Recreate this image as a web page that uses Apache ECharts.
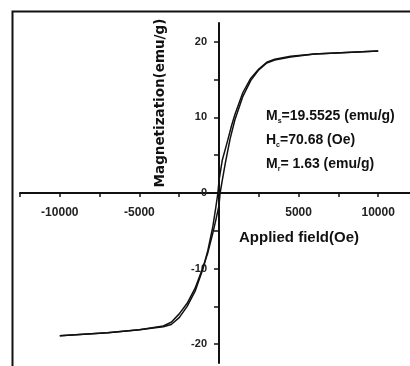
<!DOCTYPE html>
<html>
<head>
<meta charset="utf-8">
<script src="https://cdn.jsdelivr.net/npm/echarts@6/dist/echarts.min.js"></script>
<style>
  html, body { margin: 0; padding: 0; background: #fff; }
  #chart { width: 410px; height: 366px; }
</style>
</head>
<body>
<div id="chart"></div>
<script>
// descending branch (+H -> -H)
const descField = [10000, 8000, 6000, 4500, 3500, 3000, 2500, 2000, 1500, 1000, 800, 500, 200, 0, -70, -200, -400, -700, -1000, -1500, -2000, -2500, -3000, -3500, -5000, -7000, -10000];
const descMag = [18.8, 18.6, 18.4, 18.1, 17.7, 17.3, 16.4, 15.2, 13.3, 10.4, 9.0, 6.6, 4.3, 1.63, 0, -1.9, -4.6, -7.6, -10.0, -13.0, -15.0, -16.5, -17.4, -17.7, -18.1, -18.5, -18.9];
// ascending branch (-H -> +H)
const ascField = [-10000, -7000, -5000, -3500, -3000, -2500, -2000, -1500, -1000, -700, -400, -200, 0, 70, 200, 400, 700, 1000, 1500, 2000, 2500, 3000, 3500, 4500, 6000, 8000, 10000];
const ascMag = [-18.9, -18.5, -18.1, -17.6, -17.1, -16.0, -14.6, -12.6, -9.8, -7.9, -5.4, -3.6, -1.63, 0, 1.6, 4.0, 7.2, 9.7, 12.8, 14.9, 16.3, 17.2, 17.6, 18.0, 18.4, 18.6, 18.8];

const xTicks = [-12500, -10000, -7500, -5000, -2500, 0, 2500, 5000, 7500, 10000, 12500];
const xLabels = [-10000, -5000, 5000, 10000];
const yTicks = [-20, -15, -10, -5, 0, 5, 10, 15, 20];
const yLabels = [-20, -10, 0, 10, 20];

const notes = [
  ['M', 's', '=19.5525 (emu/g)'],
  ['H', 'c', '=70.68 (Oe)'],
  ['M', 'r', '= 1.63 (emu/g)']
];

const zip = (xs, ys) => xs.map((x, i) => [x, ys[i]]);
const ink = '#111';
const font = 'Liberation Sans, Arial, sans-serif';

// grid box; axes are shifted onto the origin with offset
const gLeft = 20, gRight = -8, gTop = 23, gBottom = 3;
const W = 410, H = 366;
const gW = W - gLeft - gRight, gH = H - gTop - gBottom;
const xMin = -12500, xMax = 12500, yMin = -22.5, yMax = 22.5;
const zeroX = gW * (0 - xMin) / (xMax - xMin);
const zeroY = gH * (yMax - 0) / (yMax - yMin);

const chart = echarts.init(document.getElementById('chart'));

const option = {
  animation: false,
  backgroundColor: '#fff',
  grid: { left: gLeft, right: gRight, top: gTop, bottom: gBottom, containLabel: false, outerBoundsMode: 'none' },
  xAxis: {
    type: 'value',
    min: xMin,
    max: xMax,
    position: 'bottom',
    offset: -(gH - zeroY),
    splitLine: { show: false },
    axisLine: { onZero: false, lineStyle: { color: ink, width: 2 } },
    axisTick: { customValues: xTicks, length: 4, lineStyle: { color: ink, width: 1.5 } },
    axisLabel: {
      customValues: xLabels,
      formatter: v => String(v),
      margin: 14,
      color: '#222',
      fontFamily: font,
      fontWeight: 'bold',
      fontSize: 12
    }
  },
  yAxis: {
    type: 'value',
    min: yMin,
    max: yMax,
    position: 'left',
    offset: -zeroX,
    splitLine: { show: false },
    axisLine: { onZero: false, lineStyle: { color: ink, width: 2 } },
    axisTick: { customValues: yTicks, length: 5, lineStyle: { color: ink, width: 1.5 } },
    axisLabel: {
      customValues: yLabels,
      formatter: v => String(v),
      margin: 12,
      color: '#222',
      fontFamily: font,
      fontWeight: 'bold',
      fontSize: 11
    }
  },
  series: [
    {
      type: 'line',
      data: zip(descField, descMag),
      showSymbol: false,
      lineStyle: { color: ink, width: 1.5 }
    },
    {
      type: 'line',
      data: zip(ascField, ascMag),
      showSymbol: false,
      lineStyle: { color: ink, width: 1.5 }
    }
  ],
  graphic: [
    {
      type: 'rect',
      shape: { x: 12.5, y: 11.5, width: 600, height: 600 },
      style: { fill: 'none', stroke: ink, lineWidth: 2 },
      silent: true
    },
    {
      type: 'text',
      x: 160,
      y: 103,
      rotation: Math.PI / 2,
      style: {
        text: 'Magnetization(emu/g)',
        align: 'center',
        verticalAlign: 'middle',
        fill: ink,
        font: 'bold 13.5px DejaVu Sans, sans-serif'
      }
    },
    {
      type: 'text',
      x: 299,
      y: 238,
      style: {
        text: 'Applied field(Oe)',
        align: 'center',
        verticalAlign: 'middle',
        fill: ink,
        font: 'bold 15px ' + font
      }
    },
    ...notes.map((n, i) => ({
      type: 'text',
      x: 266,
      y: 116 + i * 24,
      style: {
        text: '{b|' + n[0] + '}{s|' + n[1] + '}{b|' + n[2] + '}',
        verticalAlign: 'middle',
        rich: {
          b: { fontFamily: font, fontWeight: 'bold', fontSize: 14, lineHeight: 16, fill: ink },
          s: { fontFamily: font, fontWeight: 'bold', fontSize: 7, lineHeight: 7, padding: [11, 0, 0, 0], fill: ink }
        }
      }
    }))
  ]
};

chart.setOption(option);
</script>
</body>
</html>
